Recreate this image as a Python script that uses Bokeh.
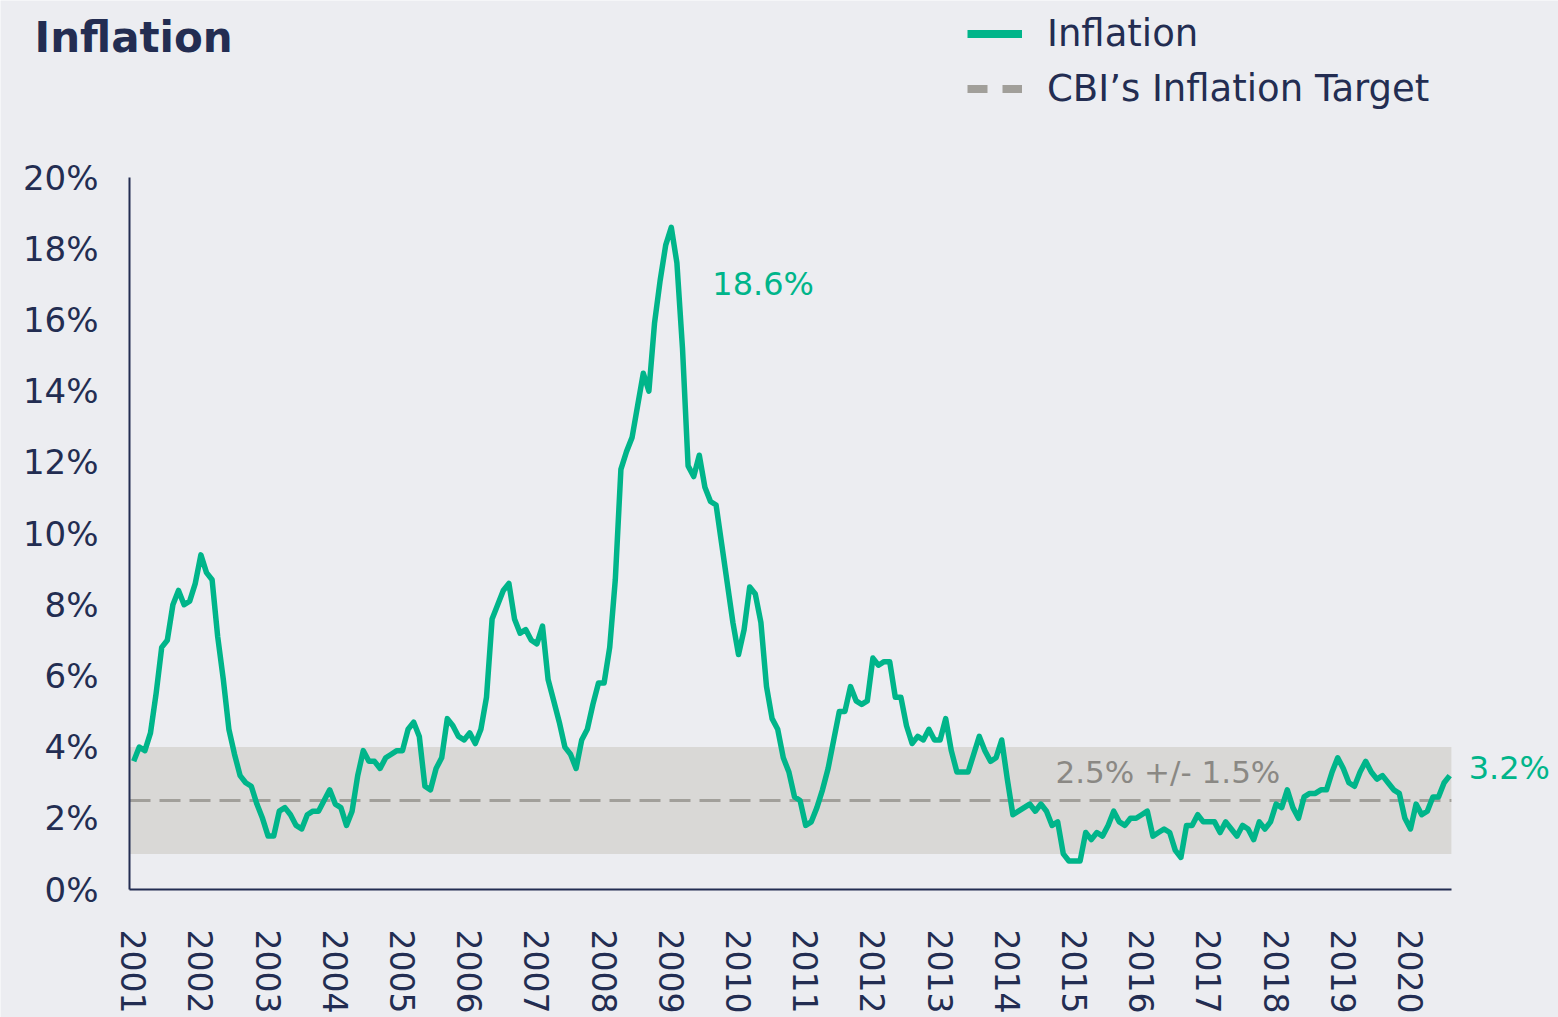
import math
from bokeh.plotting import figure
from bokeh.models import (ColumnDataSource, FixedTicker, PrintfTickFormatter, BoxAnnotation,
                          Label, Legend, LegendItem, Range1d)
from bokeh.embed import file_html
from bokeh.resources import INLINE

# ---------------- data ----------------
years = list(range(2001, 2021))
y_ticks = [0, 2, 4, 6, 8, 10, 12, 14, 16, 18, 20]
target = 2.5
tolerance = 1.5

infl_2001 = [3.6, 4.0, 3.9, 4.4, 5.5, 6.8, 7.0, 8.0, 8.4, 8.0, 8.1, 8.6]
infl_2002 = [9.4, 8.9, 8.7, 7.1, 5.9, 4.5, 3.8, 3.2, 3.0, 2.9, 2.4, 2.0]
infl_2003 = [1.5, 1.5, 2.2, 2.3, 2.1, 1.8, 1.7, 2.1, 2.2, 2.2, 2.5, 2.8]
infl_2004 = [2.4, 2.3, 1.8, 2.2, 3.2, 3.9, 3.6, 3.6, 3.4, 3.7, 3.8, 3.9]
infl_2005 = [3.9, 4.5, 4.7, 4.3, 2.9, 2.8, 3.4, 3.7, 4.8, 4.6, 4.3, 4.2]
infl_2006 = [4.4, 4.1, 4.5, 5.4, 7.6, 8.0, 8.4, 8.6, 7.6, 7.2, 7.3, 7.0]
infl_2007 = [6.9, 7.4, 5.9, 5.3, 4.7, 4.0, 3.8, 3.4, 4.2, 4.5, 5.2, 5.8]
infl_2008 = [5.8, 6.8, 8.7, 11.8, 12.3, 12.7, 13.6, 14.5, 14.0, 15.9, 17.1, 18.1]
infl_2009 = [18.6, 17.6, 15.2, 11.9, 11.6, 12.2, 11.3, 10.9, 10.8, 9.7, 8.6, 7.5]
infl_2010 = [6.6, 7.3, 8.5, 8.3, 7.5, 5.7, 4.8, 4.5, 3.7, 3.3, 2.6, 2.5]
infl_2011 = [1.8, 1.9, 2.3, 2.8, 3.4, 4.2, 5.0, 5.0, 5.7, 5.3, 5.2, 5.3]
infl_2012 = [6.5, 6.3, 6.4, 6.4, 5.4, 5.4, 4.6, 4.1, 4.3, 4.2, 4.5, 4.2]
infl_2013 = [4.2, 4.8, 3.9, 3.3, 3.3, 3.3, 3.8, 4.3, 3.9, 3.6, 3.7, 4.2]
infl_2014 = [3.1, 2.1, 2.2, 2.3, 2.4, 2.2, 2.4, 2.2, 1.8, 1.9, 1.0, 0.8]
infl_2015 = [0.8, 0.8, 1.6, 1.4, 1.6, 1.5, 1.8, 2.2, 1.9, 1.8, 2.0, 2.0]
infl_2016 = [2.1, 2.2, 1.5, 1.6, 1.7, 1.6, 1.1, 0.9, 1.8, 1.8, 2.1, 1.9]
infl_2017 = [1.9, 1.9, 1.6, 1.9, 1.7, 1.5, 1.8, 1.7, 1.4, 1.9, 1.7, 1.9]
infl_2018 = [2.4, 2.3, 2.8, 2.3, 2.0, 2.6, 2.7, 2.7, 2.8, 2.8, 3.3, 3.7]
infl_2019 = [3.4, 3.0, 2.9, 3.3, 3.6, 3.3, 3.1, 3.2, 3.0, 2.8, 2.7, 2.0]
infl_2020 = [1.7, 2.4, 2.1, 2.2, 2.6, 2.6, 3.0, 3.2]

inflation = (infl_2001 + infl_2002 + infl_2003 + infl_2004 + infl_2005 + infl_2006 +
             infl_2007 + infl_2008 + infl_2009 + infl_2010 + infl_2011 + infl_2012 +
             infl_2013 + infl_2014 + infl_2015 + infl_2016 + infl_2017 + infl_2018 +
             infl_2019 + infl_2020)
dates = [years[0] + i / 12 for i in range(len(inflation))]

# ---------------- style ----------------
BG = "#ECEDF1"
NAVY = "#232D52"
GREEN = "#00B58A"
BAND = "#D9D8D6"
DASH = "#A19F9A"
GREYTEXT = "#8A8884"
FONT = "DejaVu Sans"

W, H = 1558, 1017
PX_MONTH = 5.6          # horizontal pixels per month
PX_PCT = 35.6           # vertical pixels per percentage point
X0_PX, Y0_PX = 133.2, 889.0   # pixel position of first month / of 0 %

x_start = years[0] - (X0_PX / PX_MONTH) / 12
x_end = years[0] + ((W - X0_PX) / PX_MONTH) / 12
y_start = -(H - Y0_PX) / PX_PCT
y_end = Y0_PX / PX_PCT

# extent of the plotting area (axis lines, band)
x_left = dates[0] - 0.75 / 12
x_right = dates[-1] + 0.3 / 12

p = figure(width=W, height=H, output_backend="svg", toolbar_location=None,
           x_range=Range1d(x_start, x_end), y_range=Range1d(y_start, y_end),
           min_border=0, background_fill_color=BG, border_fill_color=BG,
           outline_line_color=None)

p.xgrid.grid_line_color = None
p.ygrid.grid_line_color = None

for ax in (p.xaxis[0], p.yaxis[0]):
    ax.axis_line_color = NAVY
    ax.axis_line_width = 2
    ax.major_tick_line_color = None
    ax.minor_tick_line_color = None
    ax.major_tick_out = 0
    ax.major_tick_in = 0
    ax.major_label_text_font = FONT
    ax.major_label_text_color = NAVY

p.xaxis.fixed_location = y_ticks[0]
p.xaxis.bounds = (x_left, x_right)
p.xaxis.ticker = FixedTicker(ticks=years)
p.xaxis.major_label_orientation = -math.pi / 2
p.xaxis.major_label_text_font_size = "33px"
p.xaxis.major_label_standoff = 40

p.yaxis.fixed_location = x_left
p.yaxis.bounds = (y_ticks[0], y_ticks[-1])
p.yaxis.ticker = FixedTicker(ticks=y_ticks)
p.yaxis.formatter = PrintfTickFormatter(format="%d%%")
p.yaxis.major_label_text_font_size = "34px"
p.yaxis.major_label_standoff = 31

# target band and target line
p.add_layout(BoxAnnotation(left=x_left, right=x_right,
                           bottom=target - tolerance, top=target + tolerance,
                           fill_color=BAND, fill_alpha=1.0, line_color=None,
                           level="underlay"))
p.line(x=[x_left, x_right], y=[target, target], line_color=DASH, line_width=3,
       line_dash="21 9")

src = ColumnDataSource(dict(x=dates, y=inflation))
p.line("x", "y", source=src, line_color=GREEN, line_width=5.5, line_join="round")

# legend (swatch-only renderers, holding a single non-drawn point)
nan = float("nan")
r_inf = p.line(x=[nan], y=[nan], line_color=GREEN, line_width=8)
r_tgt = p.line(x=[nan], y=[nan], line_color=DASH, line_width=8, line_dash="20 15")
legend = Legend(items=[LegendItem(label="Inflation", renderers=[r_inf]),
                       LegendItem(label="CBI’s Inflation Target", renderers=[r_tgt])],
                location=(967, H - 110), orientation="vertical",
                background_fill_alpha=0, border_line_alpha=0,
                label_text_font=FONT, label_text_font_size="37px",
                label_text_color=NAVY, glyph_width=55, glyph_height=43,
                label_height=43, label_standoff=25, spacing=12, padding=0, margin=0)
p.add_layout(legend)

# title
p.add_layout(Label(x=34, y=H - 37, x_units="screen", y_units="screen", text="Inflation",
                   text_font=FONT, text_font_style="bold", text_font_size="42px",
                   text_color=NAVY, text_baseline="alphabetic"))

# annotations
i_peak = max(range(len(inflation)), key=lambda i: inflation[i])
p.add_layout(Label(x=dates[i_peak], y=inflation[i_peak], text=f"{inflation[i_peak]:.1f}%",
                   x_offset=41, y_offset=-57, text_baseline="middle", text_font=FONT,
                   text_font_size="32px", text_color=GREEN))
p.add_layout(Label(x=dates[-1], y=inflation[-1], text=f"{inflation[-1]:.1f}%",
                   x_offset=19, y_offset=8, text_baseline="middle", text_font=FONT,
                   text_font_size="32px", text_color=GREEN))
p.add_layout(Label(x=1055, x_units="screen", y=target, text=f"{target}% +/- {tolerance}%",
                   y_offset=29, text_baseline="middle", text_font=FONT,
                   text_font_size="31px", text_color=GREYTEXT))

open("out.html", "w").write(file_html(p, INLINE))
